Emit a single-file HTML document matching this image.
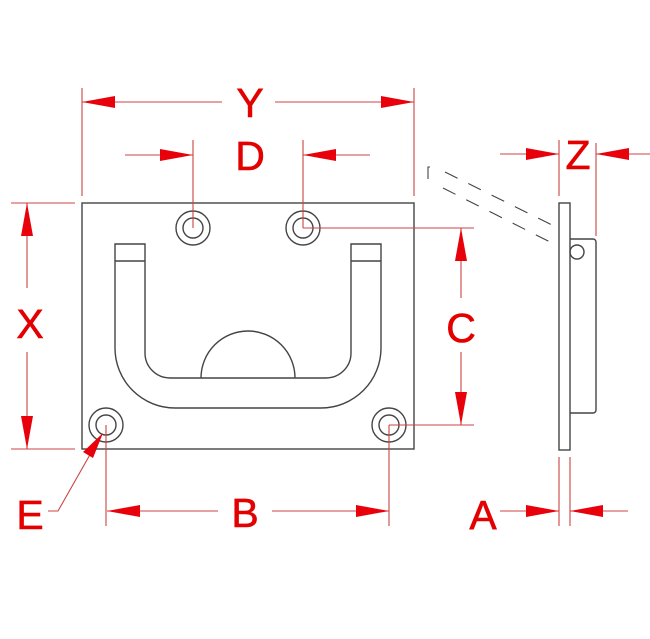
<!DOCTYPE html>
<html><head><style>html,body{margin:0;padding:0;background:#fff}svg{display:block}
text{font-family:"Liberation Sans",sans-serif;font-size:41px;fill:#e30000;text-anchor:middle;stroke:#e30000;stroke-width:0.6}</style></head>
<body>
<svg width="650" height="639" viewBox="0 0 650 639" xmlns="http://www.w3.org/2000/svg">
<g fill="none" stroke="#444" stroke-width="1.4">
<rect x="82" y="203" width="332" height="246"/>
<circle cx="193" cy="228" r="17"/><circle cx="193" cy="228" r="10"/>
<circle cx="303" cy="228" r="17"/><circle cx="303" cy="228" r="10"/>
<circle cx="106" cy="425" r="17"/><circle cx="106" cy="425" r="10"/>
<circle cx="389" cy="425" r="17"/><circle cx="389" cy="425" r="10"/>
<path d="M115 244 H145 V353 A25 25 0 0 0 170 378 H326 A25 25 0 0 0 351 353 V244 H381 V348 A60 60 0 0 1 321 408 H175 A60 60 0 0 1 115 348 Z"/>
<line x1="115" y1="261" x2="145" y2="261"/><line x1="351" y1="261" x2="381" y2="261"/>
<path d="M201 378 A47 47 0 0 1 295 378"/>
<rect x="559" y="203" width="11" height="247"/>
<path d="M570 239 H593 A3 3 0 0 1 596 242 V410 A3 3 0 0 1 593 413 H570"/>
<circle cx="577" cy="252" r="7"/>
<g stroke-dasharray="14 12" stroke-width="1.1">
<path d="M430 167 L428 167 L428 179 L433 181"/>
<line x1="445" y1="172" x2="556" y2="227"/>
<line x1="443" y1="188" x2="556" y2="245"/>
</g>
</g>
<g stroke="#c44" stroke-width="1.1" fill="none">
<line x1="82" y1="88" x2="82" y2="196"/><line x1="414" y1="88" x2="414" y2="196"/>
<line x1="82" y1="102" x2="222" y2="102"/><line x1="275" y1="102" x2="414" y2="102"/>
<line x1="193" y1="140" x2="193" y2="228"/><line x1="303" y1="140" x2="303" y2="228"/>
<line x1="125" y1="155" x2="193" y2="155"/><line x1="303" y1="155" x2="370" y2="155"/>
<line x1="11" y1="203" x2="75" y2="203"/><line x1="11" y1="449" x2="75" y2="449"/>
<line x1="27" y1="203" x2="27" y2="288"/><line x1="27" y1="352" x2="27" y2="449"/>
<line x1="303" y1="228" x2="474" y2="228"/><line x1="389" y1="425" x2="474" y2="425"/>
<line x1="461" y1="228" x2="461" y2="298"/><line x1="461" y1="352" x2="461" y2="425"/>
<line x1="106" y1="425" x2="106" y2="526"/><line x1="389" y1="425" x2="389" y2="526"/>
<line x1="107" y1="511" x2="218" y2="511"/><line x1="272" y1="511" x2="389" y2="511"/>
<line x1="559" y1="457" x2="559" y2="526"/><line x1="570" y1="457" x2="570" y2="526"/>
<line x1="500" y1="511" x2="559" y2="511"/><line x1="570" y1="511" x2="628" y2="511"/>
<line x1="559" y1="140" x2="559" y2="196"/><line x1="596" y1="143" x2="596" y2="236"/>
<line x1="500" y1="154" x2="559" y2="154"/><line x1="596" y1="154" x2="650" y2="154"/>
<polyline points="48,511 58,511 100,437"/>
</g>
<g fill="#e8000a">
<polygon points="82,102 115,96 115,108"/><polygon points="414,102 381,96 381,108"/>
<polygon points="193,155 160,149 160,161"/><polygon points="303,155 336,149 336,161"/>
<polygon points="27,203 21,236 33,236"/><polygon points="27,449 21,416 33,416"/>
<polygon points="461,228 455,261 467,261"/><polygon points="461,425 455,392 467,392"/>
<polygon points="107,511 140,505 140,517"/><polygon points="389,511 356,505 356,517"/>
<polygon points="559,511 526,505 526,517"/><polygon points="570,511 603,505 603,517"/>
<polygon points="559,154 526,148 526,160"/><polygon points="596,154 629,148 629,160"/>
<polygon points="103,433 83,452 93,458"/>
</g>
<text x="250" y="117">Y</text>
<text x="250" y="170">D</text>
<text x="30" y="338">X</text>
<text x="461" y="342">C</text>
<text x="245" y="527">B</text>
<text x="30" y="529">E</text>
<text x="483" y="529">A</text>
<text x="578" y="169">Z</text>
</svg>
</body></html>
